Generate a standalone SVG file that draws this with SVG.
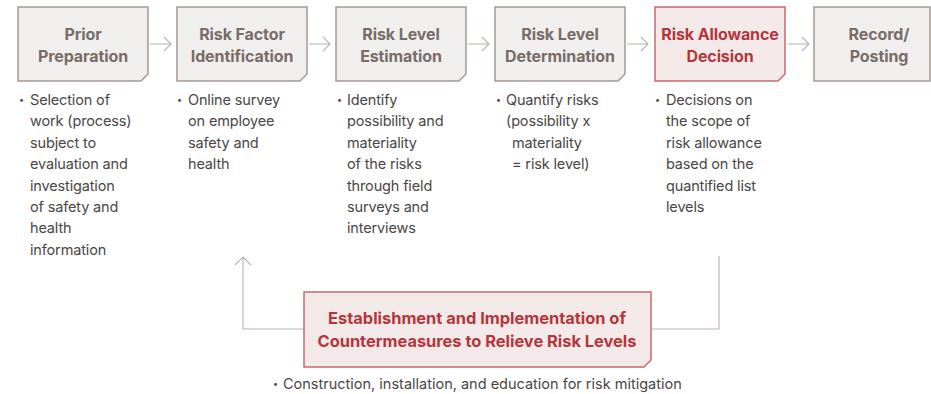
<svg xmlns="http://www.w3.org/2000/svg" width="931" height="394" viewBox="0 0 931 394">
<style>
.box{fill:#f1efee;stroke:#a49b97;stroke-width:1.5}
.rbox{fill:#f3e9e9;stroke:#c96a6e;stroke-width:1.5}
.t{font-family:Inter,"Liberation Sans",sans-serif;font-weight:700;font-size:16px;fill:#786c67;text-anchor:middle;letter-spacing:-0.1px}
.rt{font-family:Inter,"Liberation Sans",sans-serif;font-weight:700;font-size:16px;fill:#b3363b;text-anchor:middle;letter-spacing:-0.1px}
.big{font-size:16.4px;letter-spacing:0}
.b{font-family:Inter,"Liberation Sans",sans-serif;font-size:14.5px;fill:#4a4646;letter-spacing:-0.15px}
.w{letter-spacing:0}
.d{font-family:Inter,"Liberation Sans",sans-serif;font-size:9px;fill:#4a4646}
.c{fill:none;stroke:#bdb4b0;stroke-width:1.1}
</style>
<rect width="931" height="394" fill="#ffffff"/>
<g id="connectors">
<path class="c" d="M150 44H171M164 37L171 44L164 51"/>
<path class="c" d="M309 44H330M323 37L330 44L323 51"/>
<path class="c" d="M468 44H489M482 37L489 44L482 51"/>
<path class="c" d="M627 44H648M641 37L648 44L641 51"/>
<path class="c" d="M788 44H809M802 37L809 44L802 51"/>
<path class="c" d="M719 256V329H652"/>
<path class="c" d="M304 329H243V257M235 265L243 257L251 265"/>
</g>
<g id="n1">
<path class="box" d="M18 7H148V74L141 81H18Z"/>
<text class="t" x="83" y="40">Prior</text>
<text class="t" x="83" y="62">Preparation</text>
<text class="d" x="19" y="103">•</text>
<text class="b" x="30" y="105">Selection of</text>
<text class="b" x="30" y="126">work (process)</text>
<text class="b" x="30" y="148">subject to</text>
<text class="b" x="30" y="169">evaluation and</text>
<text class="b" x="30" y="191">investigation</text>
<text class="b" x="30" y="212">of safety and</text>
<text class="b" x="30" y="233">health</text>
<text class="b" x="30" y="255">information</text>
</g>
<g id="n2">
<path class="box" d="M177 7H307V74L300 81H177Z"/>
<text class="t" x="242" y="40">Risk Factor</text>
<text class="t" x="242" y="62">Identification</text>
<text class="d" x="177" y="103">•</text>
<text class="b" x="188" y="105">Online survey</text>
<text class="b" x="188" y="126">on employee</text>
<text class="b" x="188" y="148">safety and</text>
<text class="b" x="188" y="169">health</text>
</g>
<g id="n3">
<path class="box" d="M336 7H466V74L459 81H336Z"/>
<text class="t" x="401" y="40">Risk Level</text>
<text class="t" x="401" y="62">Estimation</text>
<text class="d" x="337" y="103">•</text>
<text class="b" x="347" y="105">Identify</text>
<text class="b" x="347" y="126">possibility and</text>
<text class="b" x="347" y="148">materiality</text>
<text class="b" x="347" y="169">of the risks</text>
<text class="b" x="347" y="191">through field</text>
<text class="b" x="347" y="212">surveys and</text>
<text class="b" x="347" y="233">interviews</text>
</g>
<g id="n4">
<path class="box" d="M495 7H625V74L618 81H495Z"/>
<text class="t" x="560" y="40">Risk Level</text>
<text class="t" x="560" y="62">Determination</text>
<text class="d" x="496" y="103">•</text>
<text class="b" x="506" y="105">Quantify risks</text>
<text class="b" x="506" y="126">(possibility x</text>
<text class="b" x="512" y="148">materiality</text>
<text class="b" x="512" y="169">= risk level)</text>
</g>
<g id="n5">
<path class="rbox" d="M655 7H785V74L778 81H655Z"/>
<text class="rt" x="720" y="40">Risk Allowance</text>
<text class="rt" x="720" y="62">Decision</text>
<text class="d" x="655" y="103">•</text>
<text class="b" x="666" y="105">Decisions on</text>
<text class="b" x="666" y="126">the scope of</text>
<text class="b" x="666" y="148">risk allowance</text>
<text class="b" x="666" y="169">based on the</text>
<text class="b" x="666" y="191">quantified list</text>
<text class="b" x="666" y="212">levels</text>
</g>
<g id="n6">
<path class="box" d="M814 7H930V81H814Z"/>
<text class="t" x="879" y="40">Record/</text>
<text class="t" x="879" y="62">Posting</text>
</g>
<g id="n7">
<path class="rbox" d="M304 292H651V360L644 367H304Z"/>
<text class="rt big" x="477" y="324">Establishment and Implementation of</text>
<text class="rt big" x="477" y="347">Countermeasures to Relieve Risk Levels</text>
<text class="d" x="273" y="387">•</text>
<text class="b w" x="283" y="389">Construction, installation, and education for risk mitigation</text>
</g>
</svg>
